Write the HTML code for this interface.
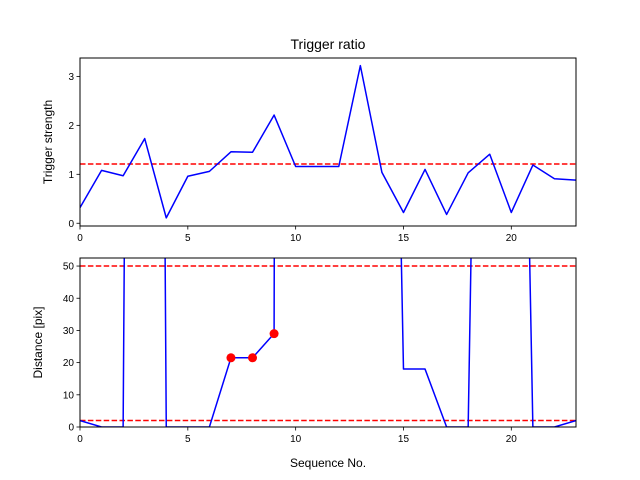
<!DOCTYPE html>
<html><head><meta charset="utf-8"><style>
html,body{margin:0;padding:0;background:#fff;}
svg{display:block;font-family:"Liberation Sans","DejaVu Sans",sans-serif;}
</style></head><body>
<svg id="chart" width="640" height="480" viewBox="0 0 640 480">
<rect x="0" y="0" width="640" height="480" fill="#fff"/>
<g id="topPanel"></g>
<g id="botPanel"></g>
</svg>
<script>
const seq = [0,1,2,3,4,5,6,7,8,9,10,11,12,13,14,15,16,17,18,19,20,21,22,23];
const strength = [0.32,1.08,0.97,1.73,0.11,0.96,1.06,1.46,1.45,2.21,1.16,1.16,1.16,3.22,1.04,0.22,1.1,0.18,1.03,1.41,0.22,1.19,0.91,0.88];
const strengthThreshold = 1.21;
const distance = [2,0,0,1000,0,0,0,21.5,21.5,29,3000,3000,3000,3000,360,18,18,0,0,400,350,0,0,2];
const distanceLines = [50,2];
const markedIdx = [7,8,9];
const xTicks = [0,5,10,15,20];
const topYTicks = [0,1,2,3];
const botYTicks = [0,10,20,30,40,50];

const NS="http://www.w3.org/2000/svg";
function mk(parent,tag,attrs,text){const e=document.createElementNS(NS,tag);for(const k in attrs)e.setAttribute(k,attrs[k]);if(text!==undefined)e.textContent=text;parent.appendChild(e);return e;}

function panel(g,cfg){
  const L=80,R=576,T=cfg.T,B=cfg.B;
  const xs=v=>L+(v-0)/(23-0)*(R-L);
  const ys=v=>B-(v-cfg.ymin)/(cfg.ymax-cfg.ymin)*(B-T);
  mk(g,'rect',{x:L,y:T,width:R-L,height:B-T,fill:'#fff'});
  const defs=mk(g,'clipPath',{id:cfg.id+'clip'});
  mk(defs,'rect',{x:L,y:T,width:R-L,height:B-T});
  const pg=mk(g,'g',{'clip-path':'url(#'+cfg.id+'clip)'});
  cfg.hlines.forEach((h)=>{
    const l=mk(pg,'line',{x1:L,x2:R,y1:ys(h),y2:ys(h),stroke:'#ff0000','stroke-width':1.5,'stroke-dasharray':'5.5,2.4'});
    
    
  });
  const pts=seq.map((s,i)=>xs(s).toFixed(2)+','+ys(cfg.vals[i]).toFixed(2)).join(' ');
  const pl=mk(pg,'polyline',{points:pts,fill:'none',stroke:'#0000ff','stroke-width':1.5,'stroke-linejoin':'round'});
  
  
  if(cfg.marks){cfg.marks.forEach(i=>{
    const c=mk(pg,'circle',{cx:xs(seq[i]),cy:ys(cfg.vals[i]),r:4.5,fill:'#ff0000'});
    
    
  });}
  mk(g,'rect',{x:L,y:T,width:R-L,height:B-T,fill:'none',stroke:'#000','stroke-width':1});
  xTicks.forEach(t=>{
    mk(g,'line',{x1:xs(t),x2:xs(t),y1:B,y2:B+3.5,stroke:'#000','stroke-width':0.8});
    const tx=mk(g,'text',{x:xs(t),y:B+15,'font-size':10,'text-anchor':'middle',fill:'#000'},String(t));
    
    
  });
  cfg.yticks.forEach(t=>{
    mk(g,'line',{x1:L,x2:L-3.5,y1:ys(t),y2:ys(t),stroke:'#000','stroke-width':0.8});
    const tx=mk(g,'text',{x:L-6,y:ys(t)+3.6,'font-size':10,'text-anchor':'end',fill:'#000'},String(t));
    
    
  });
  const yl=mk(g,'text',{x:0,y:0,'font-size':12,'text-anchor':'middle',transform:'translate('+cfg.ylx+','+((T+B)/2)+') rotate(-90)'},cfg.ylabel);
  
  
}
const topG=document.getElementById('topPanel'), botG=document.getElementById('botPanel');
const title=mk(topG,'text',{x:328,y:49,'font-size':14,'text-anchor':'middle'},'Trigger ratio');


panel(topG,{id:'top',T:58,B:226,ymin:-0.056,ymax:3.376,vals:strength,hlines:[strengthThreshold],yticks:topYTicks,ylabel:'Trigger strength',ylx:52});
const xl1=mk(topG,'text',{x:328,y:266,'font-size':12,'text-anchor':'middle'},'Sequence No.');


panel(botG,{id:'bot',T:258,B:427,ymin:0,ymax:52.5,vals:distance,hlines:distanceLines,marks:markedIdx,yticks:botYTicks,ylabel:'Distance [pix]',ylx:42});
const xl2=mk(botG,'text',{x:328,y:467,'font-size':12,'text-anchor':'middle'},'Sequence No.');


</script>
</body></html>
